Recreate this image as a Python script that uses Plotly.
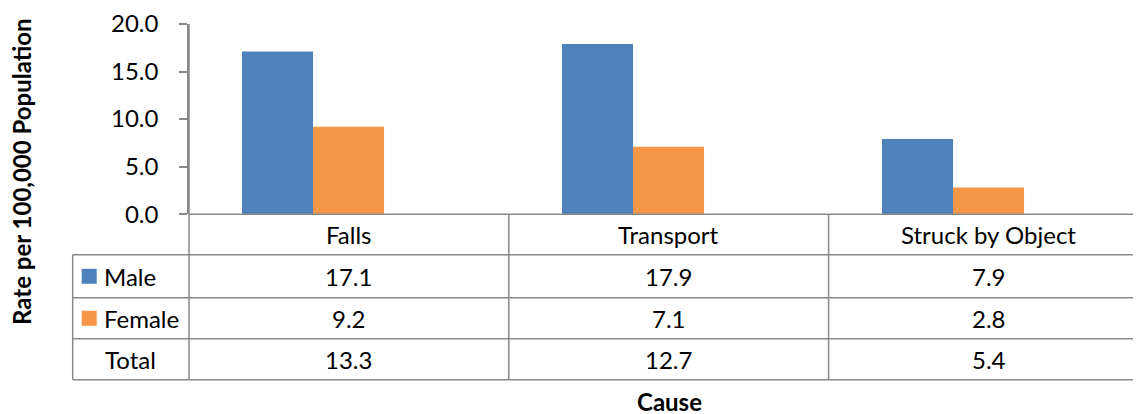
import plotly.graph_objects as go

categories = ["Falls", "Transport", "Struck by Object"]
male = [17.1, 17.9, 7.9]
female = [9.2, 7.1, 2.8]
total = [13.3, 12.7, 5.4]
y_ticks = [0, 5, 10, 15, 20]
y_tick_labels = ["0.0", "5.0", "10.0", "15.0", "20.0"]

# Positions below are given in target-picture pixels; the page body has an
# 8px margin and the photo comes out vertically squeezed by about SY.
OFF = 8
SY = 0.968
SCREEN_W, SCREEN_H = 1141, 414
W = SCREEN_W - OFF
H = int(round(SCREEN_H / SY)) - OFF
AX_X, TOP_Y = 189, 23          # y-axis line / top of plot (target px)
L = AX_X - OFF
T = TOP_Y / SY - OFF
R, B = 0, 0
PW, PH = W - L - R, H - T - B
FONT = "Lato"
FS = 24
BLUE = "#4F81BD"
ORANGE = "#F79646"
GRID = "#898989"


def px(x):
    return (x - OFF - L) / PW


def py(y):
    return (H - B - (y / SY - OFF)) / PH


axis_y = 213.3
ydom0 = py(axis_y)

fig = go.Figure()
fig.add_bar(x=list(range(len(categories))), y=male, name="Male", marker=dict(color=BLUE, line=dict(width=0)))
fig.add_bar(x=list(range(len(categories))), y=female, name="Female", marker=dict(color=ORANGE, line=dict(width=0)))

# category center at 313 + 320*k (target px)
c0, step = 313.0, 320.0
xr0 = (AX_X - c0) / step
xr1 = (W + OFF - c0) / step

shapes = []


def hline(y, x0, x1):
    shapes.append(dict(type="line", xref="paper", yref="paper", x0=px(x0), x1=px(x1), y0=py(y), y1=py(y),
                       line=dict(color=GRID, width=1.5)))


def vline(x, y0, y1):
    shapes.append(dict(type="line", xref="paper", yref="paper", x0=px(x), x1=px(x), y0=py(y0), y1=py(y1),
                       line=dict(color=GRID, width=1.5)))


rows = [213.3, 254, 297, 338, 379]
col_edges = [AX_X + 319.8 * k for k in range(4)]
left_edge = 72.7

hline(rows[0], AX_X, W + OFF + 2)
for r in rows[1:]:
    hline(r, left_edge, W + OFF + 2)
vline(left_edge, rows[1], rows[-1])
vline(AX_X, TOP_Y, rows[-1])
for ce in col_edges[1:3]:
    vline(ce, rows[0], rows[-1])

annotations = []


def text(x, y, s, size=FS, bold=False, xanchor="center", angle=0):
    annotations.append(dict(xref="paper", yref="paper", x=px(x), y=py(y), text=("<b>%s</b>" % s) if bold else s,
                            showarrow=False, xanchor=xanchor, yanchor="middle", textangle=angle,
                            font=dict(family=FONT, size=size, color="#000000")))


row_centers = [(rows[i] + rows[i + 1]) / 2 for i in range(4)]
for k, cat in enumerate(categories):
    cx = (col_edges[k] + col_edges[k + 1]) / 2
    text(cx, row_centers[0], cat)
    text(cx, row_centers[1], "%.1f" % male[k])
    text(cx, row_centers[2], "%.1f" % female[k])
    text(cx, row_centers[3], "%.1f" % total[k])

# legend keys in table
for i, (name, col) in enumerate([("Male", BLUE), ("Female", ORANGE)]):
    yc = row_centers[i + 1]
    shapes.append(dict(type="rect", xref="paper", yref="paper", x0=px(81.7), x1=px(96.7), y0=py(yc - 7.5),
                       y1=py(yc + 7.5), fillcolor=col, line=dict(width=0)))
    text(102, yc, name, xanchor="left")
text((left_edge + AX_X) / 2, row_centers[3], "Total")

text(22, 171, "Rate per 100,000 Population", size=FS, bold=True, angle=-90)
text(669, 401, "Cause", size=FS, bold=True)

fig.update_layout(
    width=W, height=H,
    margin=dict(l=L, r=R, t=T, b=B),
    paper_bgcolor="white", plot_bgcolor="white",
    barmode="group", bargap=0.556, bargroupgap=0,
    showlegend=False,
    font=dict(family=FONT, size=FS, color="#000000"),
    xaxis=dict(range=[xr0, xr1], showticklabels=False, showgrid=False, zeroline=False, showline=False,
               ticks="", fixedrange=True),
    yaxis=dict(domain=[ydom0, 1], range=[0, 20], tickvals=y_ticks, ticktext=y_tick_labels, showgrid=False,
               zeroline=False, showline=True, linecolor=GRID, linewidth=1.5, ticks="outside", ticklen=8,
               tickcolor=GRID, tickwidth=1.5, ticklabelstandoff=16, ticklabeloverflow="allow",
               tickfont=dict(family=FONT, size=FS)),
    shapes=shapes,
    annotations=annotations,
)

fig.write_html("out.html")
